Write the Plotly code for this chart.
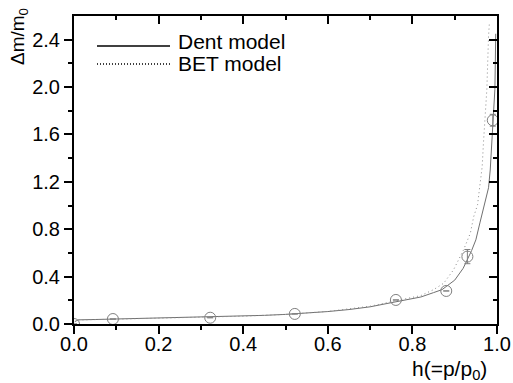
import plotly.graph_objects as go

# Measured sorption data (relative pressure h, mass uptake dm/m0)
h_exp = [0.0, 0.092, 0.322, 0.522, 0.761, 0.880, 0.930, 0.990]
dm_exp = [0.0, 0.042, 0.053, 0.085, 0.203, 0.279, 0.569, 1.72]
dm_err = [0.0, 0.0, 0.0, 0.0, 0.0, 0.0, 0.06, 0.05]

# Dent model fit
h_dent = [0.002, 0.01, 0.05, 0.1, 0.15, 0.2, 0.25, 0.3, 0.35, 0.4, 0.45, 0.5,
          0.55, 0.6, 0.65, 0.7, 0.75, 0.8, 0.82, 0.85, 0.87, 0.9, 0.92, 0.94,
          0.95, 0.96, 0.97, 0.98, 0.984, 0.988, 0.992, 0.995, 0.996, 0.997]
dm_dent = [0.02, 0.035, 0.038, 0.042, 0.045, 0.048, 0.053, 0.057, 0.062, 0.067,
           0.073, 0.081, 0.092, 0.105, 0.122, 0.145, 0.18, 0.215, 0.228, 0.265,
           0.29, 0.37, 0.47, 0.62, 0.71, 0.86, 1.0, 1.15, 1.3, 1.53, 1.72, 1.98,
           2.2, 2.45]

# BET model fit
h_bet = [0.002, 0.01, 0.05, 0.1, 0.2, 0.3, 0.4, 0.5, 0.6, 0.7, 0.75, 0.8,
         0.82, 0.85, 0.874, 0.897, 0.921, 0.937, 0.945, 0.954, 0.96, 0.965,
         0.968, 0.972, 0.976, 0.98, 0.982]
dm_bet = [0.02, 0.034, 0.037, 0.041, 0.047, 0.056, 0.066, 0.081, 0.106, 0.15,
          0.185, 0.222, 0.24, 0.29, 0.344, 0.456, 0.626, 0.767, 0.907, 1.006,
          1.16, 1.33, 1.53, 1.75, 1.98, 2.43, 2.54]

x_ticks = [0.0, 0.2, 0.4, 0.6, 0.8, 1.0]
y_ticks = [0.0, 0.4, 0.8, 1.2, 1.6, 2.0, 2.4]
y_minor = [0.2, 0.6, 1.0, 1.4, 1.8, 2.2]

FONT = "Liberation Sans, Arial, sans-serif"
GRAY = "#707070"

fig = go.Figure()

fig.add_trace(go.Scatter(x=h_dent, y=dm_dent, mode="lines",
                         line=dict(color=GRAY, width=1), showlegend=False))
fig.add_trace(go.Scatter(x=h_bet, y=dm_bet, mode="lines",
                         line=dict(color="#8a8a8a", width=1, dash="1px,3px"),
                         showlegend=False))
fig.add_trace(go.Scatter(x=h_exp, y=dm_exp, mode="markers",
                         marker=dict(symbol="circle-open", size=11,
                                     color="#808080", line=dict(width=1)),
                         error_y=dict(type="data", array=dm_err, color="#808080",
                                      thickness=1, width=3),
                         showlegend=False))

axis_common = dict(showgrid=False, zeroline=False, showline=True,
                   linecolor="black", linewidth=2, automargin=False)

fig.update_layout(
    width=513, height=383,
    margin=dict(l=74, r=16, t=16, b=59),
    paper_bgcolor="white", plot_bgcolor="white",
    font=dict(family=FONT, size=20, color="black"),
    xaxis=dict(range=[0, 1], tickvals=x_ticks,
               ticktext=[f"{v:.1f}" for v in x_ticks],
               ticks="outside", ticklen=8, tickwidth=2, tickcolor="black",
               ticklabelstandoff=-7,
               minor=dict(dtick=0.1, ticks="outside", ticklen=4, tickwidth=1.5,
                          tickcolor="black"),
               **axis_common),
    yaxis=dict(range=[0, 2.6], tickvals=y_ticks,
               ticktext=[f"{v:.1f}" for v in y_ticks],
               ticks="outside", ticklen=8, tickwidth=2, tickcolor="black",
               minor=dict(tickvals=y_minor,
                          ticks="outside", ticklen=4, tickwidth=1.5,
                          tickcolor="black"),
               **axis_common),
    # mirrored frame with inward ticks on top and right
    xaxis2=dict(range=[0, 1], overlaying="x", side="top", anchor="y",
                tickvals=x_ticks, showticklabels=False,
                ticks="inside", ticklen=8, tickwidth=2, tickcolor="black",
                minor=dict(dtick=0.1, ticks="inside", ticklen=4, tickwidth=1.5,
                           tickcolor="black"),
                **axis_common),
    yaxis2=dict(range=[0, 2.6], overlaying="y", side="right", anchor="x",
                tickvals=y_ticks, showticklabels=False,
                ticks="inside", ticklen=8, tickwidth=2, tickcolor="black",
                minor=dict(tickvals=y_minor,
                           ticks="inside", ticklen=4, tickwidth=1.5,
                           tickcolor="black"),
                **axis_common),
)

# empty trace so the secondary axes get drawn
fig.add_trace(go.Scatter(x=[None], y=[None], xaxis="x2", yaxis="y2",
                         showlegend=False, hoverinfo="skip"))

def px_x(p):
    return (p - 74) / 423

def px_y(p):
    return (324 - p) / 308

# legend drawn as line samples with labels
fig.add_shape(type="line", xref="paper", yref="paper",
              x0=px_x(97), x1=px_x(170), y0=px_y(46), y1=px_y(46),
              line=dict(color="black", width=1.5))
fig.add_shape(type="line", xref="paper", yref="paper",
              x0=px_x(97), x1=px_x(170), y0=px_y(64), y1=px_y(64),
              line=dict(color="black", width=1.5, dash="1px,2px"))
fig.add_annotation(text="Dent model", xref="paper", yref="paper",
                   x=px_x(176), y=px_y(42), xanchor="left", yanchor="middle",
                   showarrow=False, font=dict(size=21))
fig.add_annotation(text="BET model", xref="paper", yref="paper",
                   x=px_x(176), y=px_y(63), xanchor="left", yanchor="middle",
                   showarrow=False, font=dict(size=21))

# axis titles
fig.add_annotation(text="\u0394m/m<sub>0</sub>", xref="paper", yref="paper",
                   x=px_x(19), y=px_y(37), xanchor="center", yanchor="middle",
                   textangle=-90, showarrow=False, font=dict(size=19))
fig.add_annotation(text="h(=p/p<sub>0</sub>)", xref="paper", yref="paper",
                   x=px_x(449), y=px_y(370), xanchor="center", yanchor="middle",
                   showarrow=False, font=dict(size=21))

fig.write_html("out.html")
